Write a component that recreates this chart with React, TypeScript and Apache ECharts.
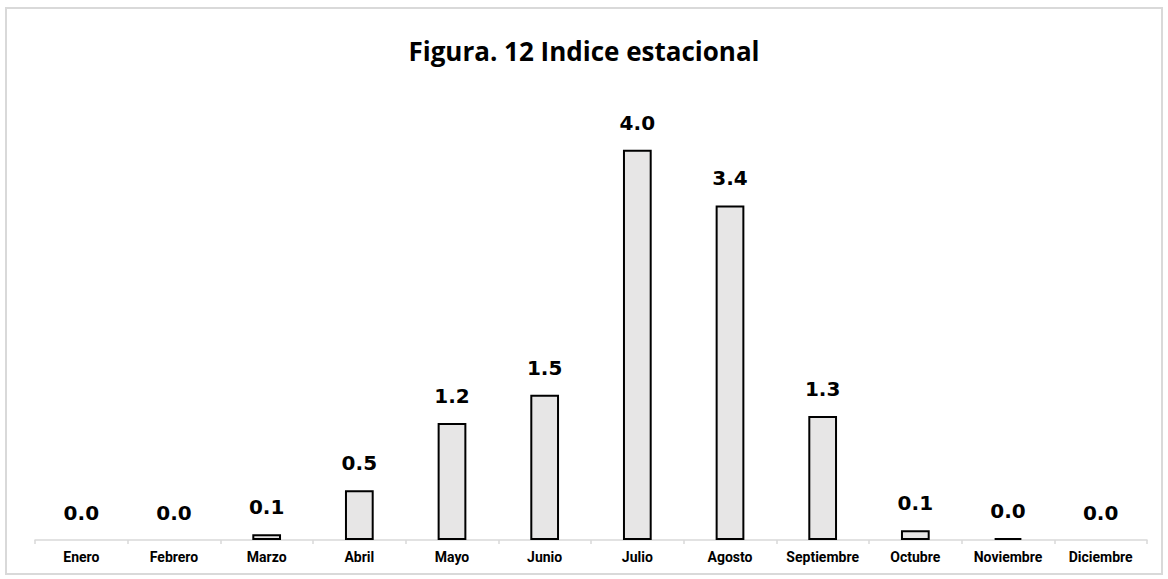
import React, { useEffect, useRef } from "react";
import * as echarts from "echarts";

const categories = ["Enero", "Febrero", "Marzo", "Abril", "Mayo", "Junio", "Julio", "Agosto", "Septiembre", "Octubre", "Noviembre", "Diciembre"];
const values = [0.0, 0.0, 0.06, 0.51, 1.2, 1.49, 4.0, 3.43, 1.27, 0.1, 0.02, 0.0];
const titleText = "Figura. 12 Indice estacional";

export default function App() {
  const ref = useRef<HTMLDivElement>(null);
  useEffect(() => {
    if (!ref.current) return;
    const chart = echarts.init(ref.current, null, { renderer: "svg" });
    chart.setOption({
      animation: false,
      backgroundColor: "#fff",
      title: {
        text: titleText,
        left: "center",
        top: 33,
        textStyle: { fontFamily: "Open Sans", fontWeight: "bold", fontSize: 26, color: "#000" },
      },
      graphic: [
        {
          type: "rect",
          shape: { x: 6, y: 8, width: 1156, height: 566 },
          style: { fill: "none", stroke: "#d9d9d9", lineWidth: 2 },
          silent: true,
        },
      ],
      grid: { left: 35, right: 21, top: 101, bottom: 39, containLabel: false },
      xAxis: {
        type: "category",
        data: categories,
        axisLine: { lineStyle: { color: "#d9d9d9", width: 1.5 } },
        axisTick: { show: true, alignWithLabel: false, length: 4, lineStyle: { color: "#d9d9d9", width: 1.5 } },
        axisLabel: {
          color: "#000",
          fontFamily: "Roboto",
          fontWeight: "bold",
          fontSize: 14,
          margin: 10,
          interval: 0,
        },
      },
      yAxis: {
        type: "value",
        min: 0,
        max: 4.5,
        show: false,
        splitLine: { show: false },
      },
      series: [
        {
          type: "bar",
          data: values.map((v) => ({ value: v, itemStyle: v === 0 ? { borderWidth: 0 } : {} })),
          barWidth: "31%",
          itemStyle: { color: "#e7e6e6", borderColor: "#000", borderWidth: 2 },
          label: {
            show: true,
            position: "top",
            distance: 17,
            formatter: (p: any) => Number(p.value).toFixed(1),
            fontFamily: "DejaVu Sans",
            fontWeight: "bold",
            fontSize: 20,
            color: "#000",
          },
        },
      ],
    });
    return () => chart.dispose();
  }, []);
  return <div ref={ref} style={{ width: 1168, height: 579, position: "absolute", left: 0, top: 0 }} />;
}
